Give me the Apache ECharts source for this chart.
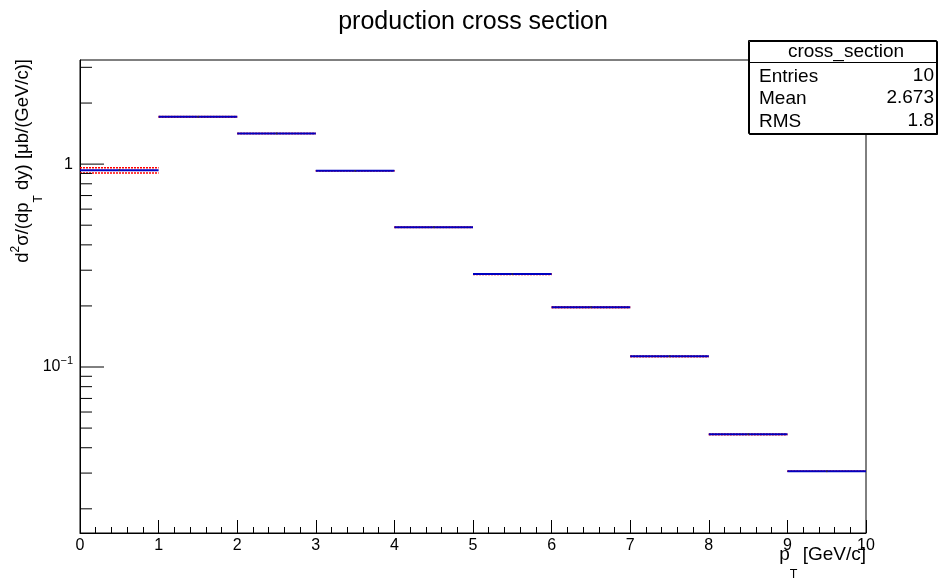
<!DOCTYPE html>
<html>
<head>
<meta charset="utf-8">
<script src="https://cdn.jsdelivr.net/npm/echarts@6/dist/echarts.min.js"></script>
<style>
  html, body { margin: 0; padding: 0; background: #fff; }
  #chart { width: 946px; height: 581px; }
</style>
</head>
<body>
<div id="chart"></div>
<script>
// bins in pT [GeV/c]
const binLow = [0, 1, 2, 3, 4, 5, 6, 7, 8, 9];
const binHigh = [1, 2, 3, 4, 5, 6, 7, 8, 9, 10];
// d2sigma/(dpT dy) [ub/(GeV/c)]
const crossSection = [0.934, 1.712, 1.417, 0.927, 0.489, 0.287, 0.197, 0.113, 0.0466, 0.0306];
const statError = [0.010, 0.015, 0.012, 0.008, 0.004, 0.0025, 0.0017, 0.001, 0.0004, 0.00026];
// systematic variations (red dotted)
const sysUp = [0.959, 1.716, 1.417, 0.927, 0.490, 0.288, 0.198, 0.1133, 0.0467, 0.0306];
const sysDown = [0.905, 1.700, 1.417, 0.927, 0.487, 0.286, 0.196, 0.1125, 0.0463, 0.0306];

// axis ticks
const yMajorTicks = [0.1, 1];
const yMajorBase = ['10', '1'];
const yMajorExp = ['−1', ''];
const yMinorTicks = [0.02, 0.03, 0.04, 0.05, 0.06, 0.07, 0.08, 0.09, 0.2, 0.3, 0.4, 0.5, 0.6, 0.7, 0.8, 0.9, 2, 3];
const yMin = 0.0152;
const yMax = 3.26;

// stats box
const statsTitle = 'cross_section';
const statsNames = ['Entries', 'Mean', 'RMS'];
const statsValues = ['10', '2.673', '1.8'];

const FONT = '"Liberation Sans", Arial, Helvetica, sans-serif';

const chart = echarts.init(document.getElementById('chart'), null, { renderer: 'canvas' });

// 直方图的水平线段
function histItem(color, width, dash, withErrors) {
    return function (params, api) {
        const lo = api.value(0), hi = api.value(1), v = api.value(2);
        const p1 = api.coord([lo, v]);
        const p2 = api.coord([hi, v]);
        const children = [{
            type: 'line',
            shape: { x1: p1[0], y1: p1[1], x2: p2[0], y2: p2[1] },
            style: { stroke: color, lineWidth: width, lineDash: dash }
        }];
        if (withErrors) {
            const e = api.value(3);
            const c = (lo + hi) / 2;
            const a = api.coord([c, v - e]);
            const b = api.coord([c, v + e]);
            children.push({
                type: 'line',
                shape: { x1: a[0], y1: a[1], x2: b[0], y2: b[1] },
                style: { stroke: '#333', lineWidth: 1.5 }
            });
        }
        return { type: 'group', children: children };
    };
}

function tickItem(len) {
    return function (params, api) {
        const p = api.coord([0, api.value(1)]);
        return {
            type: 'line',
            shape: { x1: p[0], y1: p[1], x2: p[0] + len, y2: p[1] },
            style: { stroke: '#000', lineWidth: 1 }
        };
    };
}

const rowY = [77, 99, 122];
const statsGraphics = [
    {
        type: 'rect', z: 100,
        shape: { x: 748.5, y: 40.5, width: 188, height: 93 },
        style: { fill: '#fff', stroke: '#000', lineWidth: 1, shadowColor: '#000', shadowOffsetX: 1, shadowOffsetY: 1, shadowBlur: 0 }
    },
    {
        type: 'line', z: 101,
        shape: { x1: 748.5, y1: 62.5, x2: 936.5, y2: 62.5 },
        style: { stroke: '#000', lineWidth: 1 }
    },
    {
        type: 'text', z: 101, x: 846, y: 52,
        style: { text: statsTitle, font: '19px ' + FONT, fill: '#000', align: 'center', verticalAlign: 'middle' }
    }
];
statsNames.forEach(function (name, i) {
    statsGraphics.push({
        type: 'text', z: 101, x: 759, y: rowY[i],
        style: { text: name, font: '19px ' + FONT, fill: '#000', align: 'left', verticalAlign: 'middle' }
    });
    statsGraphics.push({
        type: 'text', z: 101, x: 934, y: rowY[i] - 1,
        style: { text: statsValues[i], font: '19px ' + FONT, fill: '#000', align: 'right', verticalAlign: 'middle' }
    });
});

const option = {
    animation: false,
    backgroundColor: '#fff',
    title: {
        text: 'production cross section',
        left: 'center',
        top: 5,
        textStyle: { fontFamily: FONT, fontSize: 25, fontWeight: 'normal', color: '#000' }
    },
    grid: {
        left: 80, right: 80, top: 60, bottom: 48,
        show: true, borderColor: '#000', borderWidth: 1, backgroundColor: 'transparent'
    },
    xAxis: {
        type: 'value',
        min: 0, max: 10, interval: 1,
        axisLine: { onZero: false, lineStyle: { color: '#000', width: 1 } },
        axisTick: { inside: true, length: 13, lineStyle: { color: '#000' } },
        minorTick: { show: true, splitNumber: 5, length: 6, lineStyle: { color: '#000' } },
        splitLine: { show: false },
        axisLabel: { color: '#000', fontFamily: FONT, fontSize: 16, margin: 5 }
    },
    yAxis: {
        type: 'log',
        logBase: 10,
        min: yMin, max: yMax,
        axisLine: { lineStyle: { color: '#000', width: 1 } },
        axisTick: { show: false },
        splitLine: { show: false },
        axisLabel: {
            showMinLabel: false,
            showMaxLabel: false,
            margin: 7,
            color: '#000',
            formatter: function (v) {
                for (let i = 0; i < yMajorTicks.length; i++) {
                    if (Math.abs(Math.log10(v) - Math.log10(yMajorTicks[i])) < 1e-6) {
                        return '{n|' + yMajorBase[i] + '}' + (yMajorExp[i] ? '{sup|' + yMajorExp[i] + '}' : '');
                    }
                }
                return '';
            },
            rich: {
                n: { fontFamily: FONT, fontSize: 16, color: '#000', verticalAlign: 'middle' },
                sup: { fontFamily: FONT, fontSize: 11, color: '#000', verticalAlign: 'middle', padding: [0, 0, 13, 0] }
            }
        }
    },
    series: [
        {
            type: 'custom', name: 'sysUp',
            renderItem: histItem('#ff0000', 1.5, [2, 1], false),
            data: binLow.map((lo, i) => [lo, binHigh[i], sysUp[i]]),
            z: 2
        },
        {
            type: 'custom', name: 'sysDown',
            renderItem: histItem('#ff0000', 1.5, [2, 1], false),
            data: binLow.map((lo, i) => [lo, binHigh[i], sysDown[i]]),
            z: 2
        },
        {
            type: 'custom', name: 'cross_section',
            renderItem: histItem('#0000c0', 2, null, true),
            data: binLow.map((lo, i) => [lo, binHigh[i], crossSection[i], statError[i]]),
            z: 3
        },
        {
            type: 'custom', name: 'yMajor',
            renderItem: tickItem(24),
            data: yMajorTicks.map(v => [0, v]),
            z: 4
        },
        {
            type: 'custom', name: 'yMinor',
            renderItem: tickItem(12),
            data: yMinorTicks.map(v => [0, v]),
            z: 4
        }
    ],
    graphic: [
        {
            type: 'text', x: 23, y: 59, rotation: Math.PI / 2,
            style: {
                text: '{n|d}{sup|2}{n|σ/(dp}{sub|T}{n| dy) [μb/(GeV/c)]}',
                align: 'right', verticalAlign: 'middle',
                rich: {
                    n: { fontFamily: FONT, fontSize: 18.5, fill: '#000', verticalAlign: 'middle' },
                    sup: { fontFamily: FONT, fontSize: 12, fill: '#000', verticalAlign: 'middle', padding: [0, 0, 14, 0] },
                    sub: { fontFamily: FONT, fontSize: 12, fill: '#000', verticalAlign: 'middle', padding: [32, 0, 0, 0] }
                }
            }
        },
        {
            type: 'text', x: 866, y: 555,
            style: {
                text: '{n|p}{sub|T}{n| [GeV/c]}',
                align: 'right', verticalAlign: 'middle',
                rich: {
                    n: { fontFamily: FONT, fontSize: 19, fill: '#000', verticalAlign: 'middle' },
                    sub: { fontFamily: FONT, fontSize: 12.5, fill: '#000', verticalAlign: 'middle', padding: [40, 0, 0, 0] }
                }
            }
        }
    ].concat(statsGraphics)
};

chart.setOption(option);
window.addEventListener('resize', () => chart.resize());
</script>
</body>
</html>
